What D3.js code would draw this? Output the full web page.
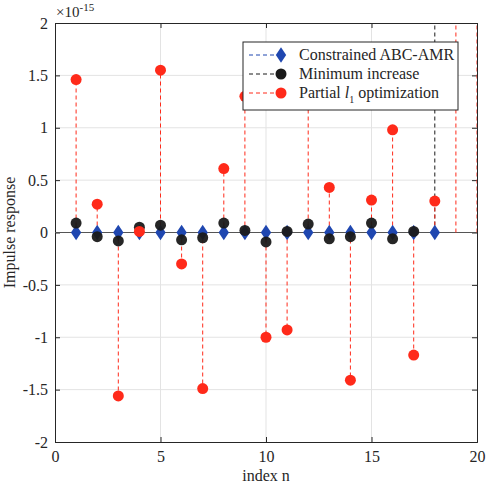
<!DOCTYPE html>
<html>
<head>
<meta charset="utf-8">
<script src="https://cdn.jsdelivr.net/npm/d3@7"></script>
<style>
  body { margin: 0; background: #fff; }
  text { font-family: "Liberation Serif", "Times New Roman", serif; }
</style>
</head>
<body>
<svg id="svg"></svg>
<script>
var w = 490, h = 488;
var margin = {left: 55, right: 13, top: 23, bottom: 46};

// data (values in units of 1e-15)
var idxBlue = [1,2,3,4,5,6,7,8,9,10,11,12,13,14,15,16,17,18];
var blueVals = [0,0,0,0,0,0,0,0,0,0,0,0,0,0,0,0,0,0];
var idxBlack = [1,2,3,4,5,6,7,8,9,10,11,12,13,14,15,16,17,18];
var blackVals = [0.09,-0.04,-0.08,0.05,0.07,-0.07,-0.05,0.09,0.02,-0.09,0.01,0.08,-0.06,-0.04,0.09,-0.06,0.01,3.0];
var idxRed = [1,2,3,4,5,6,7,8,9,10,11,12,13,14,15,16,17,18,19,20];
var redVals = [1.46,0.27,-1.56,0.01,1.55,-0.30,-1.49,0.61,1.30,-1.00,-0.93,1.65,0.43,-1.41,0.31,0.98,-1.17,0.30,3.5,3.2];
var xTicks = [0,5,10,15,20];
var yTicks = [-2,-1.5,-1,-0.5,0,0.5,1,1.5,2];
var legendNames = ["Constrained ABC-AMR", "Minimum increase", "Partial "];

var blue = "#1f47b0", black = "#1a1a1a", red = "#ff2a1a";
var serif = "'Liberation Serif', 'Times New Roman', serif";

var svg = d3.select("#svg").attr("width", w).attr("height", h)
  .attr("font-family", serif);

var x = d3.scaleLinear().domain([0, 20]).range([margin.left, w - margin.right]);
var y = d3.scaleLinear().domain([-2, 2]).range([h - margin.bottom, margin.top]);

svg.append("defs").append("clipPath").attr("id", "clip")
  .append("rect")
  .attr("x", x(0)).attr("y", y(2))
  .attr("width", x(20) - x(0)).attr("height", y(-2) - y(2));

// grid
var grid = svg.append("g");
grid.selectAll("line.gx").data(xTicks.slice(1, -1)).enter().append("line")
  .attr("x1", function(d) { return x(d); }).attr("x2", function(d) { return x(d); })
  .attr("y1", y(-2)).attr("y2", y(2))
  .attr("stroke", "#e3e3e3").attr("stroke-width", 1);
grid.selectAll("line.gy").data(yTicks.slice(1, -1)).enter().append("line")
  .attr("y1", function(d) { return y(d); }).attr("y2", function(d) { return y(d); })
  .attr("x1", x(0)).attr("x2", x(20))
  .attr("stroke", "#e3e3e3").attr("stroke-width", 1);

// axes
var xAxis = d3.axisBottom(x).tickValues(xTicks).tickSize(-5).tickPadding(9);
var yAxis = d3.axisLeft(y).tickValues(yTicks).tickSize(-5).tickPadding(7)
  .tickFormat(function(d) { return d3.format("")(d).replace("−", "-"); });

var gx = svg.append("g").attr("transform", "translate(0," + y(-2) + ")").call(xAxis);
var gy = svg.append("g").attr("transform", "translate(" + x(0) + ",0)").call(yAxis);
svg.append("g").attr("transform", "translate(0," + y(2) + ")")
  .call(d3.axisTop(x).tickValues(xTicks).tickSize(-5).tickFormat(""));
svg.append("g").attr("transform", "translate(" + x(20) + ",0)")
  .call(d3.axisRight(y).tickValues(yTicks).tickSize(-5).tickFormat(""));

gx.attr("font-family", serif).attr("font-size", 16);
gy.attr("font-family", serif).attr("font-size", 16);
svg.selectAll(".domain").attr("stroke", "#262626");
svg.selectAll(".tick line").attr("stroke", "#262626");
svg.selectAll(".tick text").attr("fill", "#262626");

// zero baseline
svg.append("line")
  .attr("x1", x(0)).attr("x2", x(20))
  .attr("y1", y(0)).attr("y2", y(0))
  .attr("stroke", "#555").attr("stroke-width", 1.2);

var plot = svg.append("g").attr("clip-path", "url(#clip)");

var drawStems = function(name, idx, vals, color) {
  var data = idx.map(function(n, i) { return {n: n, v: vals[i]}; });
  plot.selectAll("line." + name).data(data).enter().append("line")
    .attr("class", name)
    .attr("x1", function(d) { return x(d.n); }).attr("x2", function(d) { return x(d.n); })
    .attr("y1", y(0)).attr("y2", function(d) { return y(d.v); })
    .attr("stroke", color).attr("stroke-width", 1)
    .attr("stroke-dasharray", "4,3");
  return data;
};

var bData = drawStems("sb", idxBlue, blueVals, blue);
var kData = drawStems("sk", idxBlack, blackVals, black);
var rData = drawStems("sr", idxRed, redVals, red);

var diamond = d3.symbol().type(d3.symbolDiamond).size(70);
plot.selectAll("path.mb").data(bData).enter().append("path")
  .attr("class", "mb")
  .attr("d", diamond)
  .attr("transform", function(d) { return "translate(" + x(d.n) + "," + y(d.v) + ")scale(1.15,1)"; })
  .attr("fill", blue);

plot.selectAll("circle.mk").data(kData).enter().append("circle")
  .attr("class", "mk")
  .attr("cx", function(d) { return x(d.n); }).attr("cy", function(d) { return y(d.v); })
  .attr("r", 5.5).attr("fill", black).attr("fill-opacity", 0.95);

plot.selectAll("circle.mr").data(rData).enter().append("circle")
  .attr("class", "mr")
  .attr("cx", function(d) { return x(d.n); }).attr("cy", function(d) { return y(d.v); })
  .attr("r", 5.5).attr("fill", red);

// exponent
var ex = svg.append("text").attr("x", x(0) + 1).attr("y", 17)
  .attr("fill", "#262626").style("font-size", "15px");
ex.append("tspan").text("×10");
ex.append("tspan").attr("dy", -6).style("font-size", "11px").text("-15");

// axis labels
svg.append("text")
  .attr("x", (x(0) + x(20)) / 2).attr("y", 481)
  .attr("text-anchor", "middle").attr("fill", "#262626")
  .style("font-size", "16px").text("index n");
svg.append("text")
  .attr("transform", "translate(15," + y(0) + ")rotate(-90)")
  .attr("text-anchor", "middle").attr("fill", "#262626")
  .style("font-size", "16px").text("Impulse response");

// legend
var lg = svg.append("g").attr("transform", "translate(243,42)");
lg.append("rect").attr("width", 215).attr("height", 68)
  .attr("fill", "#fff").attr("stroke", "#262626").attr("stroke-width", 1);
var colors = [blue, black, red];
var rows = [13, 32, 51];
legendNames.forEach(function(name, i) {
  lg.append("line").attr("x1", 6).attr("x2", 38)
    .attr("y1", rows[i]).attr("y2", rows[i])
    .attr("stroke", colors[i]).attr("stroke-dasharray", "4,3");
  if (i == 0) {
    lg.append("path").attr("d", diamond)
      .attr("transform", "translate(38," + rows[i] + ")scale(1.15,1)")
      .attr("fill", colors[i]);
  } else {
    lg.append("circle").attr("cx", 38).attr("cy", rows[i]).attr("r", 5.5)
      .attr("fill", colors[i]);
  }
  var t = lg.append("text").attr("x", 56).attr("y", rows[i] + 5)
    .attr("fill", "#262626").style("font-size", "16px").text(name);
  if (i == 2) {
    t.append("tspan").style("font-style", "italic").text("l");
    t.append("tspan").attr("dy", 5).style("font-size", "10px").text("1");
    t.append("tspan").attr("dy", -5).text(" optimization");
  }
});
</script>
</body>
</html>
